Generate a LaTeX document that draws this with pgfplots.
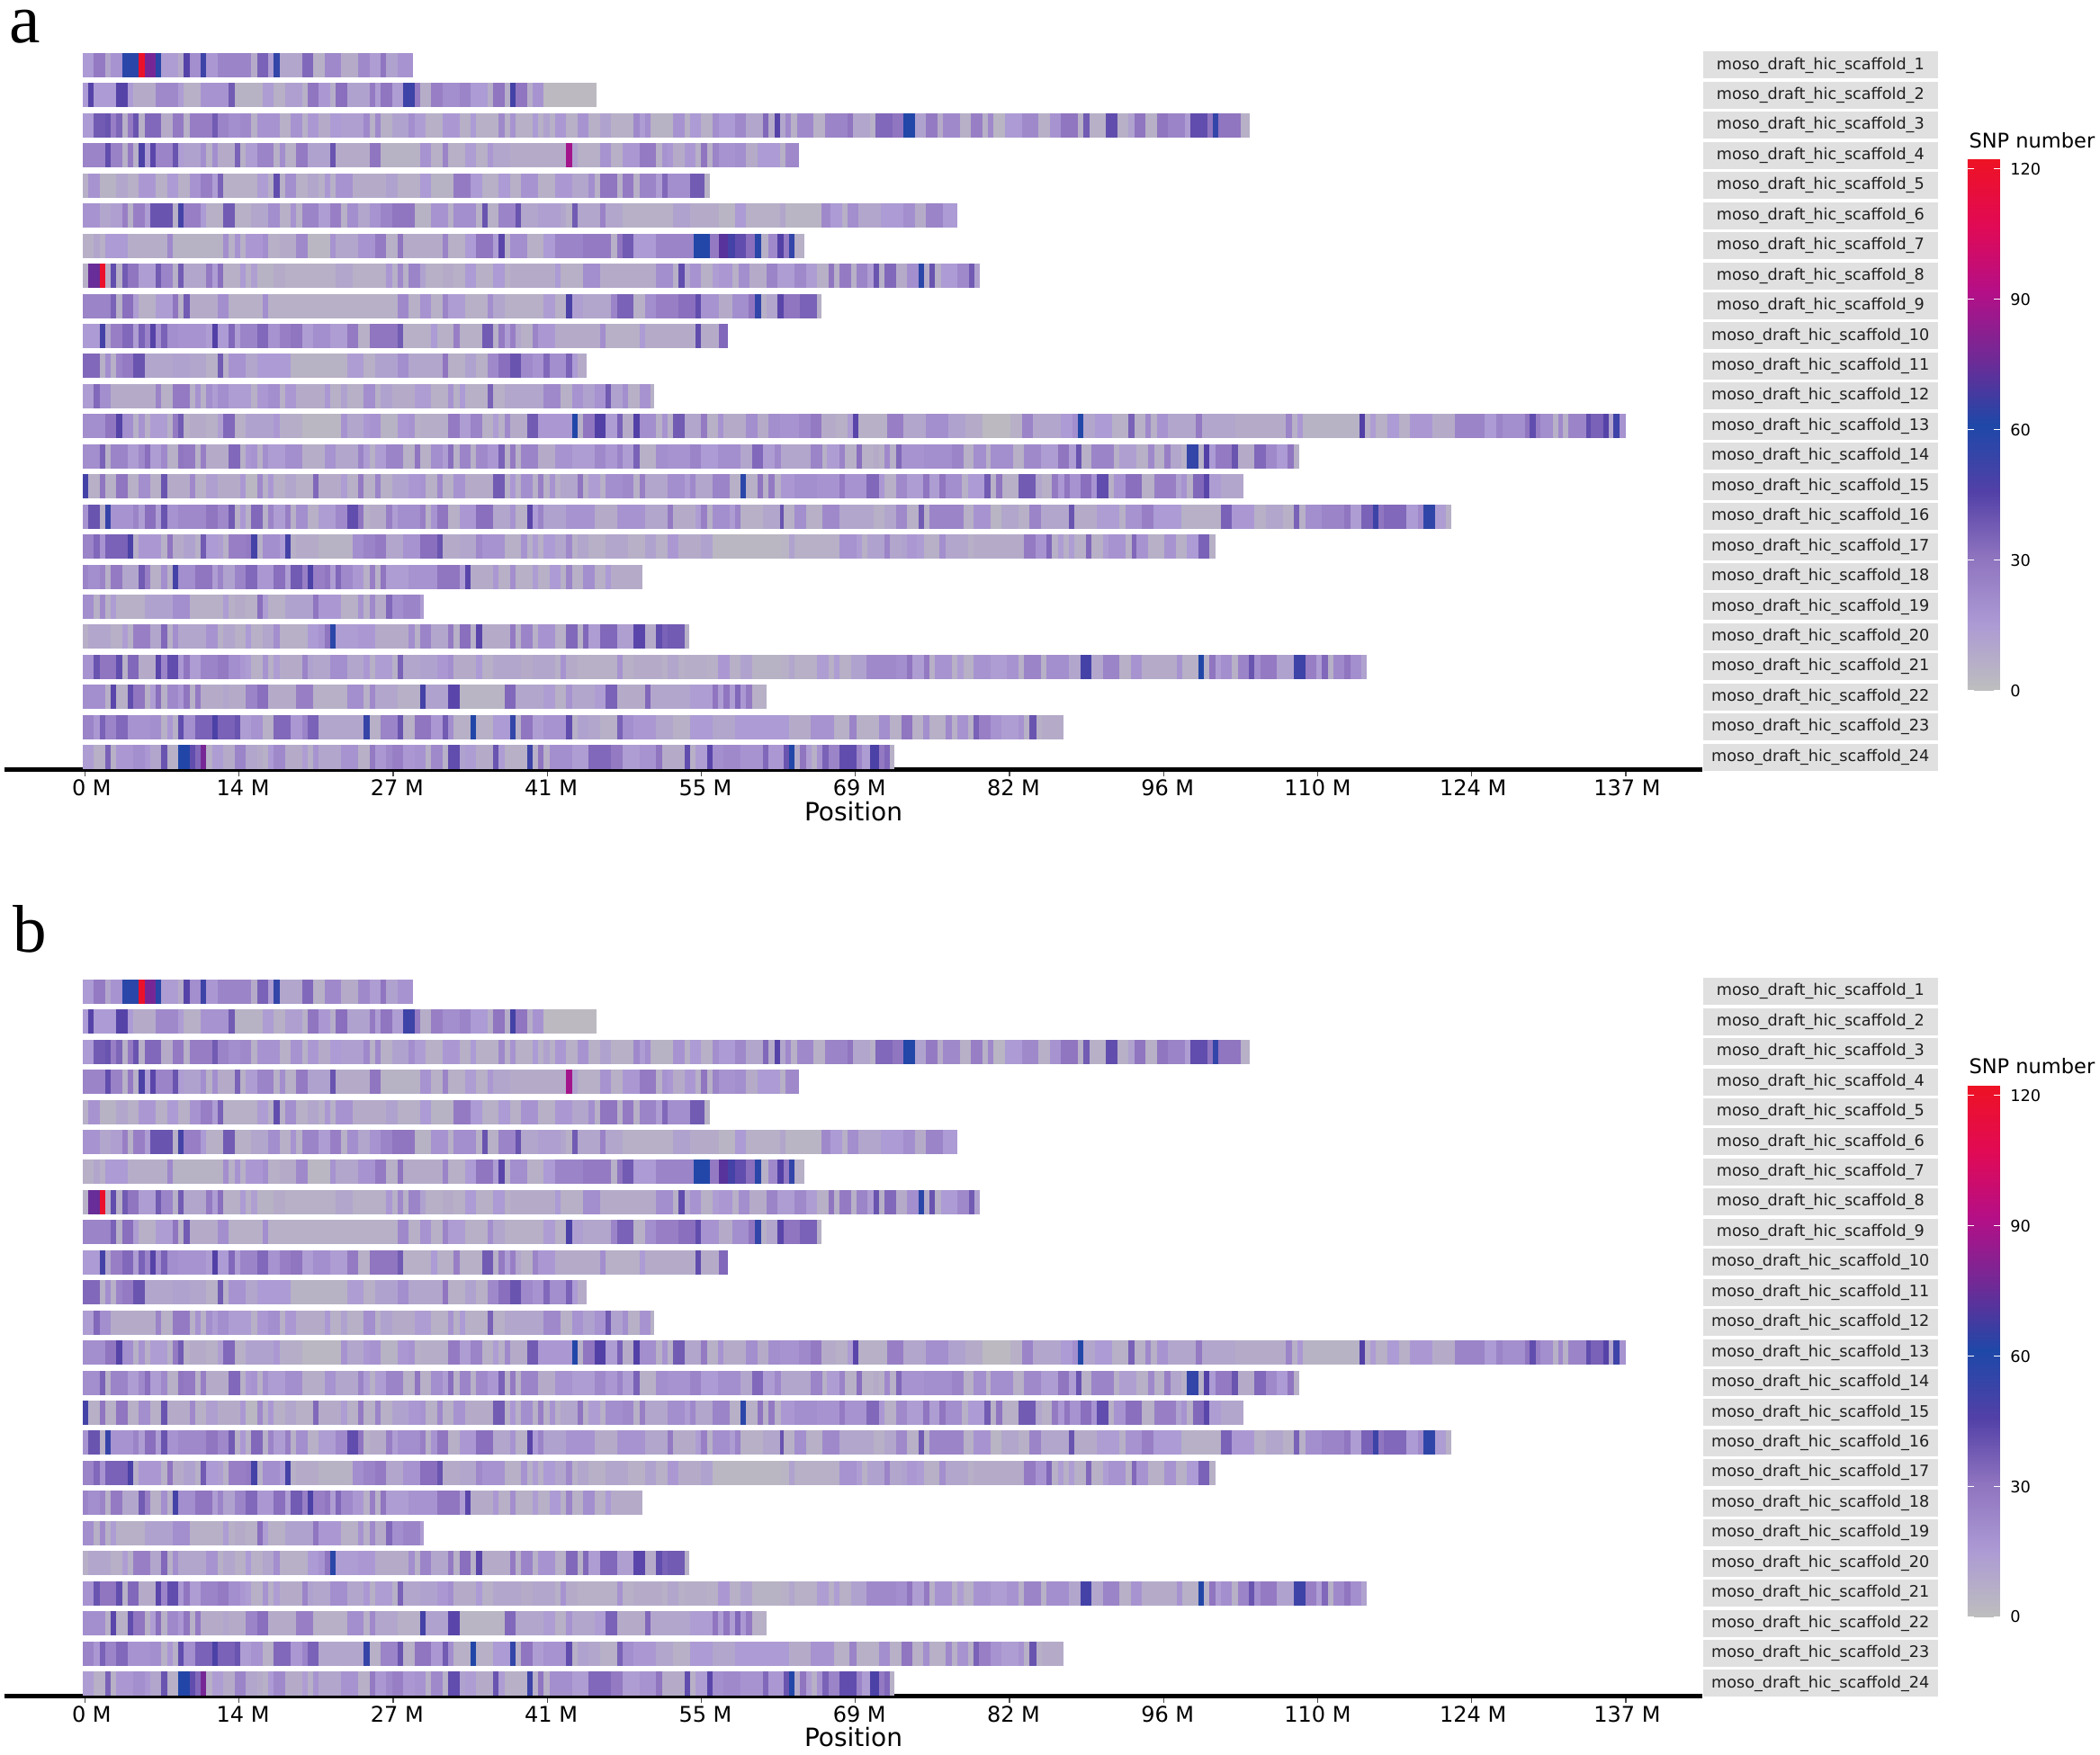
\documentclass[border=0pt]{standalone}
\usepackage{fontspec}
\setmainfont{DejaVu Sans}
\newfontfamily\lettfont{Liberation Serif}
\usepackage{pgfplots}
\pgfplotsset{compat=1.18}

% one reference pixel = 0.4pt
\pgfplotsset{
  colormap={snp}{rgb255(0cm)=(190,190,190) rgb255(1cm)=(172,154,212) rgb255(2cm)=(143,116,191)
    rgb255(3cm)=(82,64,167) rgb255(4cm)=(30,72,168) rgb255(5cm)=(112,42,150)
    rgb255(6cm)=(180,15,135) rgb255(7cm)=(225,10,85) rgb255(8cm)=(238,18,35)},
}

% a scaffold: rows are "bin start (M)  SNP number", the last row only closes the bar
\newcommand{\track}[2]{\addplot[mesh,shader=flat corner,line width=10.8pt,point meta=explicit]
  table[row sep=\\,header=false,x expr=\thisrowno{0}-0.2,y expr=#1,meta index=1] {#2};}

% panels a and b show the same bins as far as can be read
\newcommand{\tracksA}{%
\track{1}{0 15\\1 28\\2 10\\2.5 18\\3.5 58\\5 120\\5.5 78\\6.5 58\\7 14\\8.5 8\\9 45\\9.5 20\\10.5 52\\11 16\\12 24\\15 8\\15.5 36\\16.5 14\\17 55\\17.5 10\\19.5 34\\20.5 6\\21.5 22\\23 8\\24.5 22\\25.5 14\\26.5 30\\27 12\\28 18\\29.4 18\\}
\track{2}{0 15\\.5 45\\1 15\\3 45\\4 15\\4.5 8\\6.5 22\\8.5 14\\9 6\\10.5 18\\13 38\\13.5 5\\16 14\\17 6\\18 13\\19.5 6\\20 30\\21 16\\22 7\\22.5 32\\23.5 12\\25.5 28\\26 14\\26.5 30\\27.5 14\\28.5 52\\29.5 28\\30 7\\31 26\\32 20\\33.5 24\\34.5 15\\36 7\\36.5 30\\37.5 7\\38 50\\38.5 30\\39.5 7\\40 18\\41 2\\45.7 2\\}
\track{3}{0 15\\1 38\\2 40\\2.5 26\\3 35\\3.5 6\\4 28\\4.5 40\\5 6\\5.5 34\\7 8\\8 28\\9 6\\9.5 27\\11.5 38\\12 24\\13 20\\14 22\\15 6\\15.5 18\\17.5 6\\18.5 18\\19.5 6\\20 16\\21 8\\22 15\\23 13\\25 22\\25.5 6\\26 22\\26.5 6\\27.5 12\\29 20\\29.5 14\\30.5 6\\32 16\\33.5 6\\34.5 15\\35 6\\37 22\\37.5 6\\38 18\\38.5 6\\40 15\\40.5 6\\41 12\\41.5 6\\42 16\\43 6\\44 18\\45 6\\46 12\\47 6\\49 22\\49.5 14\\50 20\\50.5 5\\52.5 18\\53.5 6\\54 15\\55 6\\56 20\\56.6 15\\58 22\\59 10\\60.5 34\\61 8\\61.5 45\\62 10\\62.5 22\\63 6\\63.5 22\\65 6\\66 24\\68 30\\68.5 10\\70 6\\70.5 34\\72 30\\73 60\\74 12\\75 28\\76 8\\76.5 22\\78 6\\79 26\\80 6\\80.5 22\\81 4\\82 15\\83.5 22\\85 6\\86 18\\87 30\\88.5 6\\89 38\\89.5 6\\91 42\\92 6\\93 12\\93.5 30\\94.5 6\\95.5 30\\96.5 24\\98 14\\98.5 42\\100 30\\100.5 55\\101 30\\103 6\\103.8 6\\}
\track{4}{0 24\\2 42\\2.5 25\\3.5 6\\4 28\\4.5 6\\5 48\\5.5 14\\6 44\\6.5 24\\8 40\\8.5 14\\9 12\\10.5 20\\11 6\\11.5 20\\12 8\\13.5 36\\14 6\\14.5 14\\15.5 24\\17 6\\17.5 20\\18 6\\19 28\\20 12\\22 40\\22.5 8\\25.5 30\\26.5 5\\30 18\\31 6\\32 24\\32.5 6\\34 14\\35 6\\36 16\\36.5 10\\38 8\\43 88\\43.5 12\\44 6\\46 18\\47 6\\48 16\\49.5 28\\51 6\\51.5 18\\52 16\\52.5 8\\53.5 16\\54.5 6\\55 30\\55.5 6\\56 24\\56.6 18\\58 20\\59 8\\60 15\\62 6\\62.5 22\\63.7 22\\}
\track{5}{0 6\\.5 18\\1.5 5\\3 10\\4 6\\5 16\\6.5 6\\7.5 15\\8.5 6\\9.5 18\\10.5 26\\11.5 14\\12 36\\12.5 6\\15.5 14\\16.5 6\\17 42\\17.5 6\\18 20\\19 6\\20 10\\21 6\\21.5 16\\22 6\\22.5 18\\24 8\\27 12\\28 6\\30 15\\31 5\\33 28\\34.5 15\\35.5 6\\37 15\\38 6\\39 18\\40.5 6\\42 16\\43.5 10\\45 20\\45.5 6\\46 30\\47.5 6\\48 28\\49 6\\49.5 24\\51 14\\51.5 34\\52 20\\54 38\\55.3 5\\55.8 5\\}
\track{6}{0 18\\1.5 10\\2.5 13\\3.5 26\\4 6\\4.5 26\\5.5 14\\6 40\\8 6\\8.5 50\\9 26\\10.5 15\\11 6\\12.5 38\\13.5 6\\15 10\\16.5 20\\17.5 6\\18.5 18\\19 6\\19.5 24\\21 14\\22 26\\23 6\\23.5 20\\24.5 10\\25.5 18\\26.5 24\\27.5 30\\29.5 5\\31 18\\32.5 6\\33 20\\35 6\\35.5 40\\36 6\\37 24\\38.5 40\\39 10\\40.5 13\\42.5 10\\43 6\\43.5 38\\44 10\\46 25\\46.5 10\\48 6\\52.5 12\\54 8\\56.6 4\\58 15\\59 6\\62 10\\62.5 4\\65.7 22\\66.5 15\\67.5 6\\68 20\\69 10\\71 15\\73 20\\74 8\\75 24\\76.5 15\\77.8 15\\}
\track{7}{0 6\\1 10\\1.5 6\\2 15\\4 7\\7.5 22\\8 5\\12.5 20\\13 6\\13.5 18\\14 6\\14.5 16\\16 20\\16.5 6\\17.5 8\\19 22\\20 3\\22 18\\22.5 10\\24.5 18\\26 28\\27 6\\28 30\\28.5 8\\32 24\\32.5 6\\34 15\\35 30\\36.5 14\\37 44\\37.5 6\\38 20\\39.5 6\\41 15\\42 24\\44.5 28\\47 6\\47.5 30\\48 38\\49 15\\51 24\\54.3 60\\55.8 28\\56.6 72\\57.4 50\\58 42\\59 32\\59.8 58\\60.3 6\\61 22\\61.8 46\\62.3 28\\62.8 55\\63.3 6\\64.2 6\\}
\track{8}{0 6\\.5 75\\1.5 120\\2 6\\2.5 42\\3 6\\3.5 38\\4 30\\5 14\\6.5 38\\7 24\\8 6\\8.5 38\\9 10\\11 28\\11.5 14\\12 32\\12.5 6\\14 15\\14.5 6\\15 13\\15.5 5\\17 8\\18 6\\22.5 10\\24 6\\27 16\\27.5 6\\28 22\\28.5 6\\29 24\\30 12\\30.5 6\\32 8\\33 6\\34 15\\35 6\\36.5 15\\37.5 6\\38 8\\42 15\\42.5 6\\44.5 20\\46 8\\51 20\\52.5 6\\53 42\\53.5 10\\54 18\\55 6\\56 14\\56.6 16\\57.8 6\\58.3 20\\59.3 8\\60.8 24\\61.8 14\\63.3 22\\64.3 14\\65.3 6\\66.3 30\\66.8 6\\67.3 28\\68.3 6\\68.8 24\\69.8 14\\70.3 40\\70.8 6\\71.3 34\\72.3 8\\73.3 20\\74.3 58\\74.8 8\\75.3 40\\75.8 6\\76.3 15\\77.8 22\\78.8 38\\79.3 12\\79.8 12\\}
\track{9}{0 24\\2.5 36\\3 6\\3.5 32\\4.5 14\\5 6\\6.5 14\\8 30\\8.5 6\\9 38\\9.5 8\\12 20\\13 6\\16 20\\16.5 6\\28 22\\29 6\\30 18\\31 6\\32 24\\32.5 14\\34 6\\36 20\\36.5 10\\37.5 6\\41 14\\42 6\\43 48\\43.5 13\\44.5 10\\47 24\\47.5 36\\49 6\\50 20\\51 26\\53 32\\54.5 42\\55 18\\56.6 8\\57.8 20\\59.2 30\\59.8 55\\60.3 6\\60.8 10\\61.8 44\\62.3 30\\63.8 36\\65.3 6\\65.7 6\\}
\track{10}{0 15\\1.5 50\\2 10\\2.5 26\\3.5 34\\4.5 14\\5 36\\5.5 24\\6 45\\6.5 20\\7 36\\7.5 20\\8.5 18\\11 14\\11.5 46\\12 15\\13 34\\13.5 14\\14 24\\15.5 34\\16.5 18\\17.5 26\\18.5 30\\19.5 14\\20.5 20\\22 14\\23.5 28\\24.5 6\\25.5 30\\28 38\\28.5 6\\31 15\\31.5 6\\33 26\\33.5 6\\35.5 38\\36.5 6\\37 28\\37.5 14\\38 26\\38.5 10\\39 6\\40 24\\40.5 16\\42 8\\46 20\\46.5 6\\49.5 15\\50 8\\54.5 42\\55 8\\56.6 34\\57.4 34\\}
\track{11}{0 34\\1.5 6\\2 20\\2.5 6\\3 24\\3.5 28\\4.5 40\\5.5 10\\8 12\\9.5 10\\11 6\\12 38\\12.5 6\\13 18\\14.5 10\\15.5 15\\18.5 5\\23.5 14\\25 6\\26 12\\28 20\\29 10\\32 30\\32.5 6\\34 12\\35 6\\36 22\\37 32\\38 40\\39 22\\40 18\\41 34\\41.5 20\\43 36\\43.5 15\\44 8\\44.8 8\\}
\track{12}{0 14\\1 34\\1.5 20\\2.5 8\\6.5 24\\7 6\\8 28\\9.5 6\\10 18\\10.5 6\\11 20\\11.5 14\\12 20\\13 14\\15 6\\15.5 16\\16.5 20\\17.5 6\\18 16\\19 8\\21.5 16\\22 6\\23 12\\23.5 6\\25 20\\26 6\\26.5 12\\27.5 8\\29.5 14\\31 6\\32.5 18\\33 6\\33.5 15\\34 6\\36 36\\36.5 6\\37.5 10\\41 22\\42.5 6\\43.5 18\\44.5 12\\45.5 18\\46.5 38\\47 12\\48 20\\48.5 6\\49.5 18\\50.5 6\\50.8 6\\}
\track{13}{0 20\\2 30\\3 45\\3.5 20\\4.5 6\\5 18\\5.5 6\\6 14\\7.5 6\\8 28\\8.5 38\\9 6\\9.5 8\\11 6\\12 13\\12.5 34\\13.5 6\\14.5 12\\17 16\\17.5 7\\19.5 3\\23 18\\23.5 10\\25 16\\25.5 18\\26.5 5\\28 16\\29 18\\29.5 6\\30 7\\32.5 28\\33.5 14\\34.5 24\\35.5 6\\36.5 14\\37 6\\37.5 22\\38 8\\39.5 38\\40.5 16\\43.5 62\\44 6\\44.5 30\\45.5 46\\46.5 14\\47.5 36\\48 8\\49 46\\49.5 20\\51 6\\51.5 18\\52 6\\52.5 38\\53.5 10\\55 28\\55.5 6\\56.5 18\\57 8\\59 20\\60 8\\61 20\\62 18\\63.7 22\\64.7 28\\65.7 8\\67 6\\68 14\\68.5 44\\69 6\\71.5 26\\73 10\\75 20\\77 12\\78.5 8\\80 2\\82.5 6\\83.5 24\\84.5 10\\87 15\\88 20\\88.5 60\\89 10\\90 15\\91.5 6\\93 36\\93.5 6\\94.5 22\\95 6\\95.5 18\\96.5 10\\99 28\\99.5 10\\102.5 8\\107 24\\107.5 6\\108 16\\108.5 5\\113.5 46\\114 6\\114.5 14\\115 6\\116 15\\117 6\\118 16\\120 8\\122 24\\124.6 15\\125.7 24\\126.2 20\\128.2 30\\128.6 42\\129.2 26\\129.6 20\\130.7 6\\131.2 22\\131.6 6\\132.1 24\\133.7 42\\134.1 36\\135.2 45\\135.7 10\\136.1 52\\136.6 18\\137.2 18\\}
\track{14}{0 20\\1.5 36\\2 6\\2.5 24\\4 14\\5 22\\5.5 32\\6 14\\7 22\\7.5 6\\8.5 30\\9 28\\10 6\\10.5 26\\11 8\\13 34\\14 6\\14.5 16\\15 18\\15.5 6\\16 20\\16.5 14\\18 20\\19.5 7\\21.5 18\\22.5 10\\24.5 24\\25 14\\25.5 6\\26 14\\27 24\\28.5 6\\29.5 30\\30 6\\31 20\\32 14\\32.5 32\\33 6\\33.5 24\\34.5 6\\35 22\\36 16\\37 36\\37.5 6\\38 28\\38.5 6\\39 24\\40.5 8\\42 18\\43.5 14\\45.5 22\\46.5 16\\47.5 24\\48 14\\49 36\\49.5 6\\51 20\\52 18\\54 24\\55 15\\56.5 20\\58.5 10\\59.5 34\\60.5 14\\61.5 22\\62.1 10\\64.7 24\\65.8 6\\66.2 14\\67.3 24\\67.8 6\\68.8 32\\69.3 6\\70.3 8\\70.8 6\\71.3 22\\71.8 6\\72.3 34\\72.8 18\\74.8 20\\77.3 24\\78.3 6\\79.2 20\\80.3 6\\80.7 20\\82.7 6\\83.7 22\\85.2 14\\86.7 30\\87.7 14\\88.3 40\\88.8 6\\89.7 24\\91.7 6\\92.2 13\\93.7 6\\94.7 22\\95.3 6\\96.2 26\\96.7 10\\97.7 6\\98.2 55\\99.2 6\\99.7 46\\100.2 15\\100.7 28\\102.2 40\\102.7 8\\104.2 34\\105.2 22\\106.2 15\\107.1 30\\107.7 6\\108.2 6\\}
\track{15}{0 50\\.5 6\\1.5 30\\2 6\\3 30\\4 6\\5 20\\6 6\\7 40\\7.5 8\\9.5 22\\10 6\\11 13\\12 8\\14 16\\14.5 3\\15.5 22\\16 6\\16.5 16\\17 6\\18 10\\19 6\\20.5 34\\21 8\\23 14\\23.5 6\\24.5 28\\25 6\\26 24\\26.5 6\\27.5 12\\29 16\\30 18\\30.5 6\\31.5 22\\32 6\\33 18\\34 8\\36.5 38\\37.5 6\\38 16\\38.5 6\\39 20\\40 6\\40.5 26\\41 6\\41.5 18\\42 6\\42.5 10\\44 30\\44.5 6\\45 14\\46 6\\46.5 20\\48 22\\49 6\\49.5 26\\50 10\\52 20\\53.5 14\\54 22\\54.5 10\\56 24\\57.5 6\\58.5 58\\59 6\\60 30\\60.5 6\\61 28\\61.5 6\\62.1 16\\63.3 20\\65.3 18\\67.3 28\\67.8 18\\69.7 34\\70.8 16\\71.3 6\\72.3 22\\73.3 14\\74.7 30\\75.3 14\\76.2 30\\76.7 20\\78.2 6\\78.7 15\\80.2 38\\80.7 6\\81.2 30\\81.8 6\\83.2 38\\84.7 10\\85.3 6\\86.2 28\\86.7 16\\87.3 30\\87.8 18\\88.7 32\\89.7 18\\90.2 42\\91.2 6\\91.7 18\\92.7 32\\94.2 6\\95.3 26\\97.2 12\\97.7 18\\98.2 6\\98.7 34\\99.7 44\\100.2 14\\101.2 10\\103.2 10\\}
\track{16}{0 18\\.5 40\\1.5 6\\2 54\\2.5 18\\4.5 24\\5 14\\5.5 32\\6.5 14\\7 40\\7.5 18\\8.5 22\\11 30\\12 22\\13 38\\13.5 6\\14 16\\14.5 6\\15 34\\16 6\\16.5 24\\17 14\\18 26\\18.5 6\\19 20\\20 6\\21 14\\22.5 22\\23.5 42\\24.5 30\\25 6\\25.5 8\\27 26\\27.5 14\\28 20\\30 26\\30.5 6\\31 18\\31.5 30\\32.5 6\\33.5 16\\35 32\\36.5 10\\38 18\\38.5 6\\39.5 44\\40 15\\40.5 24\\41 12\\43 18\\45.5 8\\47.5 18\\50 10\\52 28\\52.5 8\\54.5 14\\55 26\\55.5 6\\56 20\\57.5 14\\58 24\\58.5 6\\60.5 10\\62 40\\62.3 6\\63.3 20\\64.3 6\\65.8 22\\67.3 10\\70.3 6\\71.3 10\\72.3 22\\73.3 6\\74.3 38\\74.8 6\\75.3 24\\78.3 6\\79.2 18\\80.7 4\\81.7 10\\83.2 6\\84.2 24\\85.2 10\\87.7 40\\88.2 8\\90.2 14\\92.2 6\\92.7 18\\94.2 26\\95.2 15\\97.7 6\\101.2 36\\102.2 16\\104.2 6\\105.2 10\\106.7 6\\107.7 36\\108.2 6\\108.7 20\\110.2 24\\112.2 30\\112.7 14\\113.7 36\\114.7 52\\115.2 30\\115.7 34\\117.7 15\\118.7 22\\119.2 56\\120.2 14\\121.2 6\\121.7 6\\}
\track{17}{0 24\\1 34\\1.5 18\\2 36\\4 48\\4.5 6\\5 16\\7 6\\7.5 30\\8 8\\9 12\\10 6\\10.5 38\\11 15\\12 13\\12.5 6\\13 26\\14.5 28\\15 50\\15.5 6\\16 20\\17.5 15\\18 50\\18.5 6\\19 8\\21 5\\24 20\\25 24\\26 28\\27 10\\28.5 18\\30 32\\31.5 40\\32 8\\33.5 10\\35 22\\35.5 18\\37.5 6\\39 18\\39.5 6\\40 14\\40.5 6\\41 15\\42 10\\43 22\\43.5 6\\44 10\\45 6\\46.5 10\\48.5 6\\50 12\\51 6\\52 16\\53 8\\55 12\\56 3\\62.1 4\\62.8 12\\63.3 6\\67.3 18\\68.8 14\\69.3 6\\69.8 12\\71.3 24\\71.8 10\\72.8 12\\73.3 16\\74.2 14\\74.8 6\\76.2 20\\76.7 10\\78.7 6\\79.2 8\\83.7 28\\84.7 18\\85.7 34\\86.2 6\\86.7 14\\87.2 6\\87.7 14\\88.2 6\\89.2 34\\89.7 6\\90.7 14\\91.2 18\\92.7 6\\93.3 34\\93.7 18\\94.7 6\\96.2 18\\97.2 6\\98.2 15\\99.2 36\\100.2 6\\100.7 6\\}
\track{18}{0 24\\.5 20\\1.5 24\\2 6\\2.5 28\\3.5 10\\5 38\\5.5 26\\6 6\\7 20\\7.5 6\\8 50\\8.5 20\\10 30\\11.5 14\\12 24\\12.5 12\\13.5 24\\14.5 34\\15.5 16\\17 32\\18 14\\18.5 38\\19.5 26\\20 48\\20.5 26\\21.5 30\\22 14\\22.5 34\\23 22\\24 16\\25 6\\25.5 26\\26 6\\26.5 30\\27 14\\29 18\\31.5 30\\33.5 14\\34 44\\34.5 8\\36.5 16\\37 6\\38 20\\38.5 6\\40 14\\40.5 6\\41.5 15\\42.5 6\\43 24\\43.5 6\\44.5 20\\45.5 6\\46.5 15\\47 8\\49.8 8\\}
\track{19}{0 20\\1 6\\1.5 22\\2 6\\2.5 14\\3 6\\5.5 12\\8 20\\9.5 6\\12.5 14\\13 6\\13.5 8\\14.5 6\\15.5 32\\16 14\\16.5 6\\18 12\\20.5 30\\21 16\\23 6\\24.5 18\\25 6\\25.5 22\\26 8\\27 34\\27.5 20\\28.5 24\\30 14\\30.3 14\\}
\track{20}{0 6\\.5 10\\2.5 6\\3.5 14\\4 6\\4.5 26\\6 10\\7 34\\7.5 6\\8 20\\8.5 10\\11 18\\12 6\\12.5 10\\13.5 6\\14.5 15\\15 6\\16 10\\17 20\\17.5 6\\20 15\\21 18\\21.5 30\\22 58\\22.5 14\\24.5 16\\26 8\\29 20\\29.5 6\\30 24\\31 10\\32.5 28\\33 6\\33.5 32\\34.5 6\\35 44\\35.5 8\\38 28\\38.5 6\\39 24\\40 6\\40.5 18\\42 6\\43 34\\44 6\\44.5 34\\45 14\\46 34\\47.5 13\\49 44\\50 8\\51 42\\51.5 36\\52 38\\53.5 6\\53.9 6\\}
\track{21}{0 18\\1 40\\1.5 30\\3 42\\3.5 6\\4 34\\5 8\\6.5 44\\7 24\\7.5 42\\8.5 16\\9 30\\9.5 14\\10.5 24\\12 28\\13 20\\14 16\\14.5 14\\15 6\\16 18\\16.5 6\\17 14\\17.5 8\\19.5 24\\20 12\\20.5 10\\22 20\\23.5 10\\25 16\\25.5 6\\26 14\\27.5 6\\28 36\\28.5 10\\30 12\\31.5 16\\32.5 20\\33 8\\35 15\\35.5 6\\36.5 10\\39 8\\40 10\\42 6\\42.5 18\\43 8\\44 6\\47.5 18\\48 6\\49 8\\51 8\\51.5 6\\52 10\\53 6\\53.5 7\\55.5 6\\56.5 16\\57.5 6\\58.5 12\\59.5 5\\62.1 6\\62.8 10\\63.3 6\\65.3 14\\66.3 6\\66.8 14\\67.3 6\\68.3 12\\69.7 22\\72.3 20\\73.3 30\\73.8 14\\74.8 28\\75.3 6\\75.8 18\\77.3 6\\77.8 14\\78.3 6\\79.2 18\\80.7 14\\82.2 18\\83.2 6\\83.7 24\\85.2 6\\85.7 20\\87.7 10\\88.7 50\\89.7 10\\90.7 24\\92.2 6\\93.2 18\\94.2 8\\97.3 18\\97.8 6\\99.2 62\\99.7 6\\100.2 30\\100.7 14\\101.2 20\\102.2 6\\102.7 24\\103.7 40\\104.2 20\\104.7 28\\106.2 12\\107.7 52\\108.7 26\\109.7 14\\110.2 34\\110.7 6\\111.2 22\\112.2 30\\112.7 20\\113.7 12\\114.2 12\\}
\track{22}{0 20\\2 6\\2.5 44\\3 6\\4 42\\4.5 30\\5.5 6\\6 14\\6.5 32\\7 6\\7.5 22\\8.5 16\\9 30\\9.5 6\\10 28\\10.5 8\\12.5 10\\13 8\\14.5 24\\15.5 32\\16.5 8\\18 8\\19 26\\20.5 6\\23.5 20\\25 6\\25.5 22\\26 10\\28 6\\30 50\\30.5 12\\32.5 44\\33.5 4\\37.5 34\\38.5 10\\41 14\\42 6\\43 18\\43.5 10\\45.5 14\\46.5 36\\47.5 8\\50 34\\50.5 10\\54 14\\56 30\\56.5 14\\57 30\\57.5 14\\58 34\\58.5 16\\59 28\\59.5 6\\60.8 6\\}
\track{23}{0 24\\1 16\\1.5 36\\2 24\\3 34\\4 18\\6 20\\7 6\\7.5 16\\8 6\\8.5 42\\9 20\\10 36\\11.5 48\\12 36\\13.5 40\\14 14\\15 18\\16 6\\17 34\\18.5 16\\19.5 24\\20 36\\21 10\\23 10\\25 54\\25.5 6\\26.5 24\\28 40\\28.5 6\\29.5 30\\31 16\\32 38\\32.5 20\\33 6\\34.5 62\\35 6\\36.5 15\\38 55\\38.5 6\\39 30\\40 14\\41 18\\42 18\\43 42\\43.5 6\\44 12\\45 10\\46 6\\47.5 36\\48 20\\49 16\\51 10\\52.5 6\\54 15\\56 10\\58 15\\62.1 15\\62.8 8\\64.7 18\\66.8 6\\68.2 24\\68.8 6\\70.8 20\\71.8 6\\72.8 30\\73.8 6\\74.7 20\\75.3 6\\76.7 22\\77.3 6\\77.8 18\\78.7 6\\79.2 36\\79.7 26\\80.7 18\\81.7 14\\83.2 18\\83.7 6\\84.2 40\\84.8 6\\85.3 8\\87.2 8\\}
\track{24}{0 14\\1 6\\2 36\\2.5 6\\3 16\\4.5 20\\5.5 16\\6 10\\7 40\\7.5 6\\8.5 62\\9.5 42\\10 34\\10.5 78\\11 6\\11.5 14\\12.5 8\\13.5 24\\14.5 10\\15.5 8\\16 6\\16.5 15\\17 22\\18 8\\19.5 14\\20 6\\20.5 18\\21 10\\23 18\\24.5 6\\25.5 28\\26 16\\27 22\\27.5 26\\28.5 16\\29.5 18\\30.5 6\\31 22\\32 6\\32.5 42\\33.5 12\\34 14\\35 8\\36.5 40\\37 14\\37.5 6\\39.5 52\\40 6\\40.5 30\\41 6\\41.5 20\\43.5 14\\45 34\\47 28\\48 14\\49.5 18\\51 30\\51.5 8\\53.5 42\\54 6\\54.5 14\\55.5 44\\56 20\\57 22\\58.5 18\\60.5 34\\61 16\\62.3 40\\62.8 60\\63.3 8\\63.8 30\\64.3 14\\64.8 6\\65.3 18\\65.8 36\\66.3 24\\67.3 42\\68.8 24\\69.3 14\\70 48\\70.8 28\\71.3 34\\71.8 6\\72.2 6\\}
}

\newcommand{\panelaxis}[2]{%
\begin{axis}[
  at={(2pt,#1)},anchor=south west,scale only axis,
  width=754.8pt,height=320pt,
  xmin=-7.15,xmax=143.8,ymin=0.5,ymax=24.42,y dir=reverse,
  clip=false,
  axis y line=none,axis x line*=bottom,
  axis line style={line width=1.9pt,-},
  xtick={0,13.7,27.4,41.1,54.8,68.5,82.2,95.9,109.6,123.3,137},
  xticklabels={\hspace*{6pt}0 M,\hspace*{3.6pt}14 M,\hspace*{3.6pt}27 M,\hspace*{3.6pt}41 M,\hspace*{3.6pt}55 M,\hspace*{3.6pt}69 M,\hspace*{3.6pt}82 M,\hspace*{3.6pt}96 M,110 M,\hspace*{1.2pt}124 M,\hspace*{1.2pt}137 M},
  tick style={line width=0.5pt,color=black!70},
  major tick length=3pt,tick align=outside,
  x tick label style={font=\fontsize{9.6}{10}\selectfont,yshift=2pt},
  xlabel={Position},
  xlabel style={font=\fontsize{11.2}{12}\selectfont,yshift=4.6pt},
  colormap name=snp,
  point meta min=0,point meta max=122.3,
  colorbar,
  colorbar style={
    at={(1.1563,0.11)},anchor=south west,
    scale only axis,width=14.4pt,height=236.4pt,
    axis line style={draw=none},
    ytick={0,30,60,90,120},
    ytick pos=both,yticklabel pos=right,
    tick style={color=white,line width=0.5pt},major tick length=2.8pt,tick align=inside,
    /pgf/number format/assume math mode=true,
    yticklabel style={font=\fontsize{7.1}{8}\selectfont,xshift=1pt},
  },
]
#2
\pgfplotsinvokeforeach{1,...,24}{
  \node[fill=black!12,text=black!88,inner sep=0pt,minimum width=104.4pt,minimum height=12pt,
    font=\fontsize{7.05}{8}\selectfont] at (axis cs:154.3,##1) {moso\_draft\_hic\_scaffold\_##1};
}
\node[anchor=west,inner sep=0pt,font=\fontsize{9}{10}\selectfont] at (rel axis cs:1.1569,0.875) {SNP number};
\end{axis}}

\begin{document}
\begin{tikzpicture}
\path[use as bounding box] (0,0) rectangle (933.6pt,780pt);
\panelaxis{437.7pt}{\tracksA}
\panelaxis{25.8pt}{\tracksA}
\node[anchor=base west,inner sep=0pt,font=\lettfont\fontsize{31}{32}\selectfont] at (4pt,761pt) {a};
\node[anchor=base west,inner sep=0pt,font=\lettfont\fontsize{30}{32}\selectfont] at (5.5pt,356.5pt) {b};
\end{tikzpicture}
\end{document}
